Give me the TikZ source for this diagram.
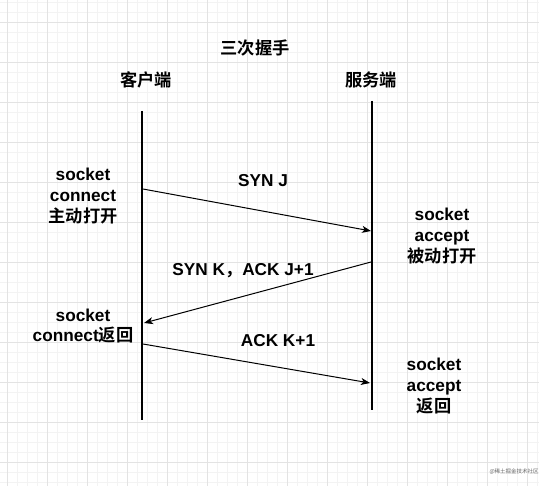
\documentclass[tikz,border=0pt]{standalone}
\usepackage{fontspec}
\setmainfont{Liberation Sans}
\newfontfamily\cjk{Noto Sans CJK SC}[BoldFont={* Bold}]
\usetikzlibrary{arrows.meta}
\definecolor{minorgrid}{HTML}{F3F3F3}
\definecolor{majorgrid}{HTML}{E3E3E3}
\tikzset{
  lbl/.style={font=\fontsize{17.3}{20.7}\selectfont\bfseries, align=center, inner sep=0pt},
  life/.style={line width=2bp, black},
  msg/.style={line width=1bp, black, -{Stealth[length=9bp,width=7bp,inset=2.5bp]}},
}
\begin{document}
\begin{tikzpicture}[x=1bp,y=-1bp]
\useasboundingbox (0,0) rectangle (539,486);
% grid
\foreach \x in {-3,7,...,539} \draw[minorgrid, line width=0.8bp] (\x,0) -- (\x,486);
\foreach \y in {2,12,...,486} \draw[minorgrid, line width=0.8bp] (0,\y) -- (539,\y);
\foreach \x in {7,47,...,539} \draw[majorgrid, line width=0.8bp] (\x,0) -- (\x,486);
\foreach \y in {22,62,...,486} \draw[majorgrid, line width=0.8bp] (0,\y) -- (539,\y);
% titles
\node[lbl] (title) at (255,48) {\cjk 三次握手};
\node[lbl] (client) at (146,80) {\cjk 客户端};
\node[lbl] (server) at (371,80) {\cjk 服务端};
% lifelines
\coordinate (ctop) at (142,111);
\coordinate (cbot) at (142,420);
\coordinate (stop) at (372,101);
\coordinate (sbot) at (372,410);
\draw[life] (ctop) -- (cbot);
\draw[life] (stop) -- (sbot);
% messages
\coordinate (m1s) at (143,189);
\coordinate (m1e) at (371,231);
\coordinate (m2s) at (371,262);
\coordinate (m2e) at (144,323);
\coordinate (m3s) at (143,344);
\coordinate (m3e) at (370,383);
\draw[msg] (m1s) -- (m1e);
\draw[msg] (m2s) -- (m2e);
\draw[msg] (m3s) -- (m3e);
\node[lbl] (l1) at (263,181) {SYN J};
\node[lbl] (l2) at (243,271) {SYN K{\cjk ，}ACK J+1};
\node[lbl] (l3) at (278,341) {ACK K+1};
% side texts
\node[lbl] (cl1) at (83,196) {socket\\connect\\{\cjk 主动打开}};
\node[lbl] (sr1) at (442,236) {socket\\accept\\{\cjk 被动打开}};
\node[lbl] (cl2) at (83,326) {socket\\connect{\cjk 返回}};
\node[lbl] (sr2) at (434,386) {socket\\accept\\{\cjk 返回}};
% watermark
\node[font=\fontsize{5.5}{6}\selectfont, text=black!60, inner sep=0pt] (wm) at (514,472) {\cjk @稀土掘金技术社区};
\end{tikzpicture}
\end{document}
